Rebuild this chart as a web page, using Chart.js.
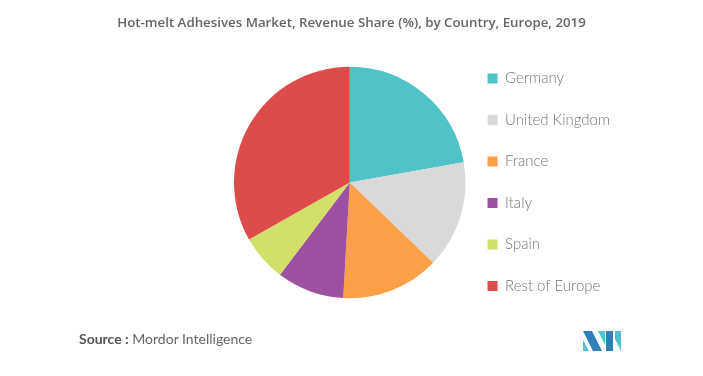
<!DOCTYPE html>
<html>
<head>
<meta charset="utf-8">
<script src="https://cdn.jsdelivr.net/npm/chart.js@4/dist/chart.umd.min.js"></script>
<style>
  body { margin: 0; background: #fff; }
  #wrap { position: relative; width: 703px; height: 376px; }
  #title { position: absolute; left: 0; width: 703px; top: 12px; line-height: 20px; text-align: center;
           font-family: 'Open Sans', sans-serif; font-size: 13.3px; font-weight: 600; color: #666; }
  #source { position: absolute; left: 79px; top: 330px; font-family: Lato, sans-serif; font-size: 14px; color: #666; }
  #source b { color: #555; }
  #logo { position: absolute; left: 583px; top: 330px; }
</style>
</head>
<body>
<div id="wrap">
  <canvas id="chartOfShare" width="703" height="376"></canvas>
  <div id="title">Hot-melt Adhesives Market, Revenue Share (%), by Country, Europe, 2019</div>
  <div id="source"><b>Source :</b> Mordor Intelligence</div>
  <svg id="logo" width="40" height="22" viewBox="0 0 40 22">
    <polygon points="0,10 0,21 6,21" fill="#4fc3d0"/>
    <polygon points="0,1 9,1 19,21 10,21" fill="#2f7fb8"/>
    <polygon points="15,1 22,1 22,15" fill="#4fc3d0"/>
    <polygon points="23,1 30,1 30,21 23,21" fill="#2f7fb8"/>
    <polygon points="32,1 38,1 38,21 32,9" fill="#4fc3d0"/>
  </svg>
</div>
<script>
const countries = ["Germany", "United Kingdom", "France", "Italy", "Spain", "Rest of Europe"]
const share = [22.2, 15.0, 13.7, 9.4, 6.5, 33.2]
const colors = ["#4fc3c8", "#d9d9d9", "#fba047", "#9b51a0", "#d2e06a", "#de4b4b"]

const chartOfShare = document.getElementById("chartOfShare")

const data = {
    labels: countries,
    datasets: [{
        label: 'Revenue Share (%)',
        data: share,
        backgroundColor: colors,
        borderWidth: 0
    }]
}

const config = {
    type: 'pie',
    data: data,
    options: {
        responsive: false,
        animation: false,
        layout: {
            padding: { left: 234, right: 83, top: 40, bottom: 51 }
        },
        plugins: {
            legend: {
                position: 'right',
                fullSize: false,
                // empty title only pushes the rows down a little
                title: { display: true, text: '', padding: 0, font: { size: 4, lineHeight: 1 } },
                labels: {
                    boxWidth: 10,
                    boxHeight: 10,
                    padding: 22,
                    color: '#777',
                    font: { family: 'Lato', size: 15, weight: '300', lineHeight: 1.3 },
                    // wrap text in arrays so the row height follows the line height
                    generateLabels: (chart) => {
                        const items = Chart.overrides.pie.plugins.legend.labels.generateLabels(chart)
                        for (item of items) {
                            item.text = [item.text]
                        }
                        return items
                    }
                }
            },
            tooltip: { enabled: false }
        }
    }
}

new Chart(chartOfShare, config)
</script>
</body>
</html>
